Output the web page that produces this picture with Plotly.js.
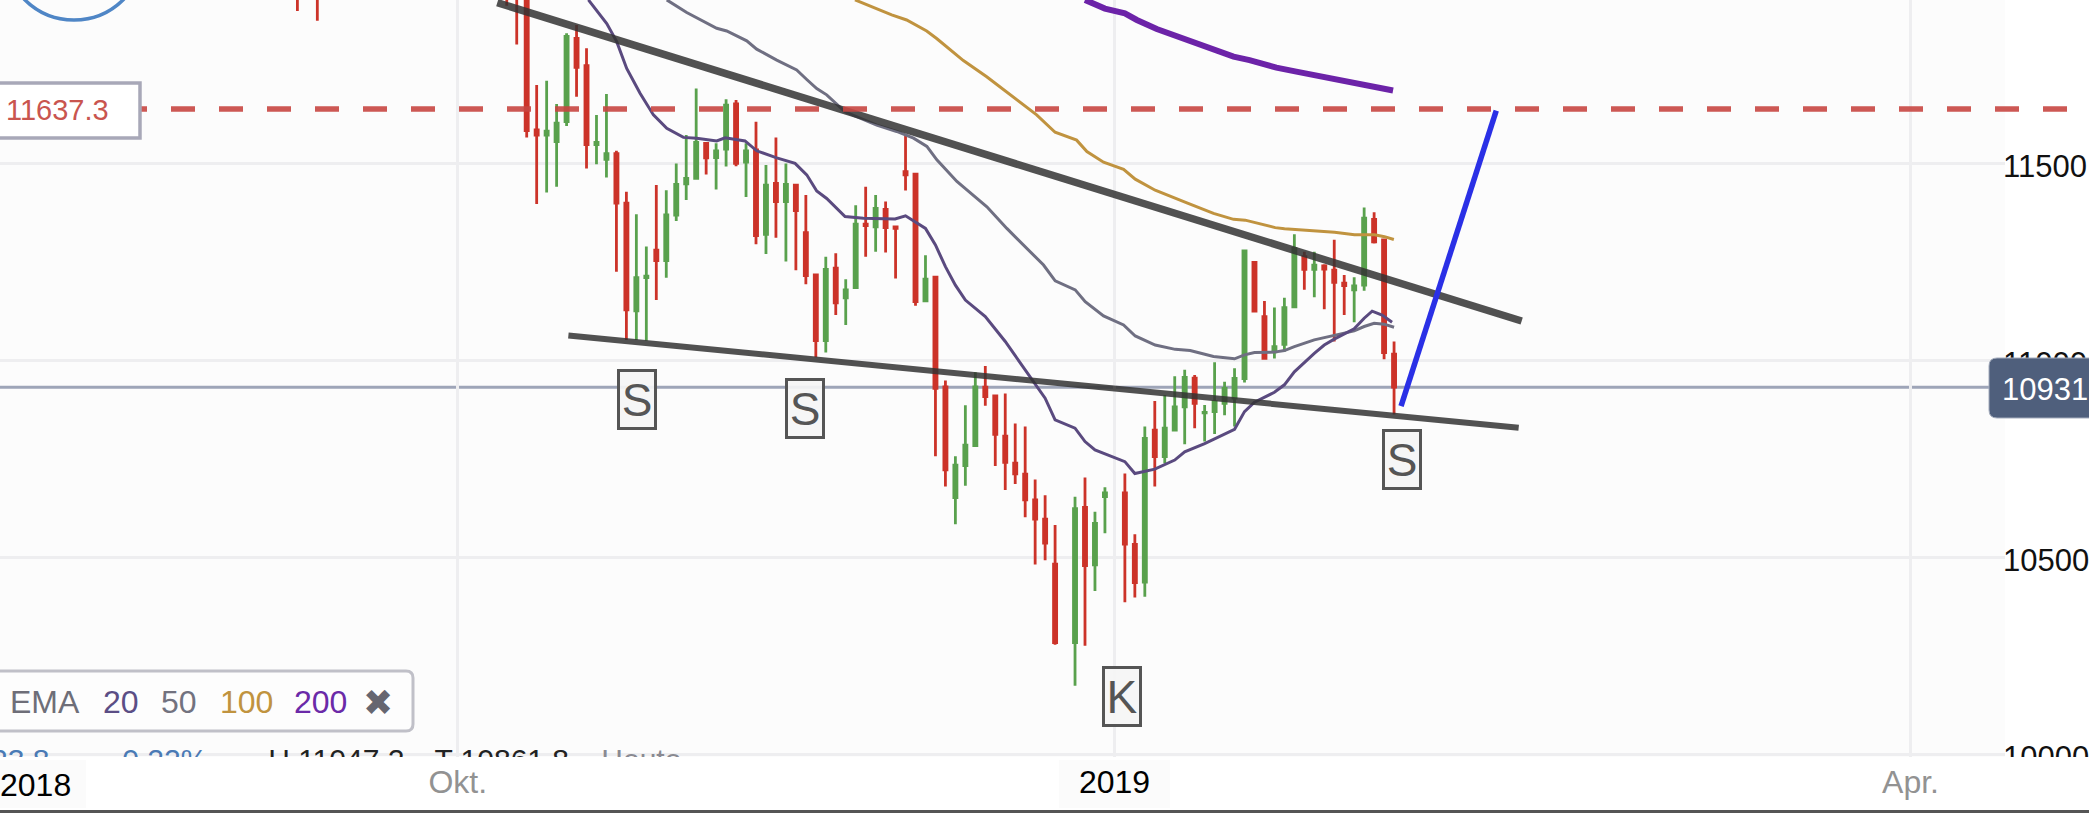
<!DOCTYPE html>
<html><head><meta charset="utf-8">
<style>html,body{margin:0;padding:0;background:#fff;overflow:hidden}</style>
<script src="https://cdn.plot.ly/plotly-3.0.1.min.js"></script>
</head><body><div id="chart" style="width:2089px;height:813px"></div>
<script>
// ---- candle data (index = trading-day slot) ----
const candleIdx = [-22,-20,-1,0,1,2,3,4,5,6,7,8,9,10,11,12,13,14,15,16,17,18,19,20,21,22,23,24,25,26,27,28,29,30,31,32,33,34,35,36,37,38,39,40,41,42,43,44,45,46,47,48,49,50,51,52,53,54,56,57,58,59,61,62,63,64,65,66,67,68,69,70,71,72,73,74,75,76,77,78,79,80,81,82,83,84,85,86,87,88];
const opens  = [12040,12040,12040,12010,11960,11584,11571,11554,11605,11816,11747,11547,11509,11524,11398,11125,11209,11279,11252,11368,11447,11461,11550,11514,11535,11650,11502,11533,11319,11448,11402,11444,11323,11216,11049,11233,11158,11184,11345,11338,11382,11338,11478,11472,11150,11210,10932,10651,10732,10783,10931,10909,10807,10738,10710,10645,10596,10482,10283,10626,10480,10653,10663,10532,10436,10822,10755,10822,10881,10954,10866,10869,10890,10903,10953,11248,11110,11021,11040,11135,11262,11230,11239,11228,11195,11178,11190,11357,11305,11015];
const highs  = [12060,12060,12060,12030,11980,11698,11709,11650,11829,11850,11791,11622,11675,11531,11427,11370,11288,11444,11431,11499,11571,11689,11552,11550,11662,11660,11550,11605,11495,11565,11499,11446,11419,11218,11262,11271,11205,11393,11440,11419,11402,11341,11569,11474,11266,11212,10948,10756,10885,10969,10985,10911,10915,10839,10831,10697,10657,10581,10653,10702,10615,10677,10712,10558,10831,10896,10911,10959,10975,10962,10886,10994,10945,10979,11279,11249,11150,11133,11158,11319,11275,11275,11243,11305,11216,11210,11387,11375,11306,11047.2];
const lows   = [11886,11861,11899,11801,11565,11396,11425,11440,11594,11668,11486,11497,11463,11224,11051,11051,11049,11152,11209,11353,11406,11459,11471,11433,11491,11492,11414,11294,11269,11310,11250,11228,11192,11007,11019,11114,11089,11182,11262,11275,11273,11207,11430,11138,11148,10756,10679,10583,10681,10782,10884,10731,10670,10685,10601,10481,10492,10277,10173,10275,10414,10560,10385,10397,10399,10679,10738,10821,10786,10827,10793,10812,10860,10831,10943,11123,11003,11004,11021,11133,11178,11159,11129,11047,11114,11096,11176,11296,11002,10861.8];
const closes = [12000,12000,11990,11950,11582,11571,11581,11601,11821,11743,11547,11552,11524,11398,11127,11209,11213,11252,11368,11446,11461,11552,11513,11531,11647,11499,11531,11316,11444,11402,11446,11379,11214,11049,11230,11145,11178,11345,11341,11385,11336,11334,11470,11148,11205,10928,10721,10733,10784,10932,10907,10811,10740,10711,10645,10596,10535,10283,10623,10478,10585,10663,10533,10435,10801,10755,10827,10881,10956,10890,10867,10894,10928,10953,11277,11124,11004,11034,11133,11283,11230,11241,11231,11197,11189,11188,11360,11300,11019,10931];

// ---- moving averages ----
const ema20x = [7.19,9.03,10.03,11.03,12.37,13.71,15.05,16.72,18.05,20.06,20.9,22.9,24.07,26.08,27.92,29.09,30.09,31.09,32.93,34.77,37.95,39,41,42,43,44,45,47,49,51,53,54,56,57,58,61,62,64,66,67,69,72,73,74,76,77,78,80,81,82,84,85,85.8,86.8,87.8];
const ema20y = [11914,11854,11808,11740,11677,11622,11588,11565,11563,11556,11564,11556,11531,11513,11499,11470,11429,11410,11364,11360,11358,11366,11334,11292,11237,11190,11152,11110,11047,10975,10903,10848,10827,10793,10772,10742,10712,10723,10746,10767,10788,10824,10869,10893,10918,10937,10970,11017,11038,11053,11079,11106,11124,11114,11096];
const ema50x = [15.05,17.05,20.06,21.06,23.07,24.07,26.08,28.08,29.09,30.09,31.09,32.93,36.11,38.11,39.8,41.14,42.14,44.15,45.15,47.16,49.16,51.17,52.84,54.01,56.02,57.02,58.86,60.87,62.04,64.04,66.05,67.55,69.89,72,73,74,76,77,78,80,82,84,85,86,87,88];
const ema50y = [11914,11882,11842,11835,11810,11789,11761,11736,11712,11689,11673,11630,11596,11580,11563,11542,11508,11453,11432,11389,11334,11283,11241,11201,11178,11148,11112,11089,11061,11038,11027,11024,11009,11003,11013,11019,11020,11024,11034,11051,11063,11074,11085,11093,11091,11083];
const ema100x = [33.93,37.61,39.11,41.12,42.12,44.8,47.14,50.15,52.15,54,56.16,57.19,58.86,60.87,62.04,64.04,66.05,67.22,69.89,71.9,73.07,76.08,77.01,80.02,82.03,84.03,86.04,87.04,87.98];
const ema100y = [11914,11876,11863,11835,11816,11760,11719,11662,11622,11578,11558,11529,11502,11484,11459,11431,11410,11399,11372,11357,11355,11336,11333,11328,11324,11318,11318,11313,11306];
const ema200x = [57,59,61,62.2,64.2,66.2,67.9,69.9,71.9,73.5,76.2,78.2,80.2,83.6,85.9,87.9];
const ema200y = [11914,11892,11880,11863,11840,11821,11805,11785,11770,11761,11742,11732,11722,11705,11696,11684];

// ---- drawn lines ----
const upperTrendX = [-1.95,100.8], upperTrendY = [11907,11099];
const lowerTrendX = [5.18,100.5],  lowerTrendY = [11062,10828];
const forecastX   = [88.7,98.25],  forecastY   = [10883,11633];
const dashedLevel = 11637.3, lastPrice = 10931;

// ---- labels ----
const markLabels = ['S','S','S','K'];
const markX = [12.07,28.87,88.77,60.75];
const markY = [10900,10876,10747,10145];
const yTicks = [11500,11000,10500,10000];
const yTickText = ['11500','11000','10500','10000'];
const xTickVals = [-5.92,59.96,139.8];
const xTickText = ['Okt.','<span style="color:#000">2019</span>','Apr.'];
const statusText = ['23.8','0.22%','H 11047.2','T 10861.8','Heute'];
const statusX = [-49.8,-35.3,-18.1,-1.5,12.5];
const statusColors = ['#4a7ab5','#4a7ab5','#222','#222','#8a8a92'];
const emaLegend = ['EMA','20','50','100','200'];
const emaLegendColors = ['#6e6e78','#5b4e85','#72727f','#c0933f','#6b2aa8'];

const W = 2005, H = 757;
const fx = x => x / W, fy = y => (H - y) / H;
const FONT = '"Liberation Sans", Arial, sans-serif';
const greenC = '#59a14d', redC = '#cc3329';

const ln = (x, y, color, width) => ({type:'scatter', mode:'lines', x, y, line:{color, width, shape:'linear'}, hoverinfo:'skip', showlegend:false});

const traces = [
  {type:'candlestick', x:candleIdx, open:opens, high:highs, low:lows, close:closes, whiskerwidth:0,
   increasing:{line:{color:greenC, width:2.8}, fillcolor:greenC},
   decreasing:{line:{color:redC, width:2.8}, fillcolor:redC},
   hoverinfo:'skip', showlegend:false},
  ln(ema50x, ema50y, '#6f6f82', 3),
  ln(ema20x, ema20y, '#5a4a7f', 3),
  ln(ema100x, ema100y, '#c0933f', 3),
  ln(ema200x, ema200y, '#6c23a8', 6),
  ln(upperTrendX, upperTrendY, 'rgba(50,50,50,0.85)', 7.5),
  ln(lowerTrendX, lowerTrendY, 'rgba(50,50,50,0.85)', 6),
  ln(forecastX, forecastY, '#2a30e6', 5.5),
  {type:'scatter', mode:'text', x:statusX, y:statusX.map(()=>10017), text:statusText, textposition:'bottom center',
   textfont:{family:FONT, size:30, color:statusColors}, hoverinfo:'skip', showlegend:false}
];

const rect = (x0,y0,x1,y1,fill,layer,lc,lw) => ({type:'rect', xref:'paper', yref:'paper', x0:fx(x0), x1:fx(x1), y0:fy(y0), y1:fy(y1),
  fillcolor:fill, layer:layer||'above', line:{color:lc||fill, width:lw===undefined?0:lw}});

const X = fx, Y = fy;
const rightRound = (x0,y0,x1,y1,r) => `M${X(x0)},${Y(y0)} L${X(x1-r)},${Y(y0)} Q${X(x1)},${Y(y0)} ${X(x1)},${Y(y0+r)} L${X(x1)},${Y(y1-r)} Q${X(x1)},${Y(y1)} ${X(x1-r)},${Y(y1)} L${X(x0)},${Y(y1)} Z`;
const leftRound = (x0,y0,x1,y1,r) => `M${X(x1)},${Y(y0)} L${X(x0+r)},${Y(y0)} Q${X(x0)},${Y(y0)} ${X(x0)},${Y(y0+r)} L${X(x0)},${Y(y1-r)} Q${X(x0)},${Y(y1)} ${X(x0+r)},${Y(y1)} L${X(x1)},${Y(y1)} Z`;

const shapes = [
  rect(0,760,86,808,'#fbfbfb','below'),
  rect(1059,760,1170,808,'#fbfbfb','below'),
  rect(0,737,686,757,'#fcfcfc','between'),
  {type:'line', xref:'x', yref:'paper', x0:59.96, x1:59.96, y0:0, y1:1, layer:'between', line:{color:'#d5d5db', width:3}},
  {type:'line', xref:'paper', yref:'y', x0:0, x1:fx(1990), y0:lastPrice, y1:lastPrice, layer:'between', line:{color:'#9ea5b8', width:3}},
  {type:'line', xref:'paper', yref:'y', x0:fx(123), x1:fx(2089), y0:dashedLevel, y1:dashedLevel, layer:'above',
   line:{color:'rgba(200,70,65,0.9)', width:5.5, dash:'24px,24px'}},
  {type:'circle', xref:'paper', yref:'paper', x0:fx(4), x1:fx(144), y0:fy(-120), y1:fy(20), layer:'above', line:{color:'#4f86c6', width:3.5}, fillcolor:'rgba(0,0,0,0)'},
  rect(-5,83,140,138,'#ffffff','above','#a8a8b8',3.5),
  {type:'path', xref:'paper', yref:'paper', path:rightRound(-5,671,413,731,7), fillcolor:'#fdfdfd', layer:'above', line:{color:'#c0c0c8', width:3}},
  {type:'path', xref:'paper', yref:'paper', path:leftRound(1989,358,2095,418,8), fillcolor:'#4f5f7c', layer:'above', line:{color:'#a5adbd', width:1}},
  rect(2000,757,2089,810,'#ffffff','above'),
  rect(0,810,2089,813,'#555555','above')
];

const pAnn = (text,x,y,size,color,anchor) => ({text, x:fx(x), y:fy(y), xref:'paper', yref:'paper', xanchor:anchor||'left', yanchor:'middle',
  showarrow:false, font:{family:FONT, size, color}, borderpad:0});

const legendX = [9,102,160,219,293];
const annotations = [
  pAnn('11637.3',5,110,29,'#c9554f'),
  pAnn('10931',2001,389,31,'#ffffff'),
  {text:'2018', x:-48.3, y:fy(785), xref:'x', yref:'paper', xanchor:'center', yanchor:'middle', showarrow:false, font:{family:FONT,size:32,color:'#000'}},
  {text:'✖', x:fx(378), y:fy(702), xref:'paper', yref:'paper', xanchor:'center', yanchor:'middle', showarrow:false, font:{family:'"DejaVu Sans"',size:36,color:'#666670'}}
];
emaLegend.forEach((t,k)=>annotations.push(pAnn(t,legendX[k],702,32,emaLegendColors[k])));
markLabels.forEach((t,k)=>annotations.push({text:t, x:markX[k], y:markY[k], xref:'x', yref:'y', xanchor:'center', yanchor:'middle', showarrow:false,
  width:34, height:55, align:'center', valign:'middle', bgcolor:'rgba(245,245,245,0.92)', bordercolor:'#555', borderwidth:3, borderpad:0,
  font:{family:FONT,size:46,color:'#555'}}));

const layout = {
  width:2089, height:813, margin:{l:0,r:84,t:0,b:56,pad:0}, paper_bgcolor:'#ffffff', plot_bgcolor:'#fcfcfc',
  showlegend:false, dragmode:false, boxgap:0.56,
  xaxis:{type:'linear', range:[-51.83,149.28], tickmode:'array', tickvals:xTickVals, ticktext:xTickText, showgrid:true, gridcolor:'#eeeef0', gridwidth:3,
    zeroline:false, showline:false, ticks:'', tickfont:{family:FONT,size:32,color:'#929292'}, rangeslider:{visible:false}, fixedrange:true, tickangle:0, ticklabelstandoff:3},
  yaxis:{type:'linear', side:'right', range:[9992.4,11913.7], tickmode:'array', tickvals:yTicks, ticktext:yTickText, showgrid:true, gridcolor:'#eeeef0', gridwidth:3,
    zeroline:false, showline:false, ticks:'', tickfont:{family:FONT,size:31,color:'#111'}, fixedrange:true, ticklabelstandoff:-3, ticklabelshift:3},
  shapes, annotations
};
Plotly.newPlot('chart', traces, layout, {displayModeBar:false, staticPlot:true});
</script></body></html>
